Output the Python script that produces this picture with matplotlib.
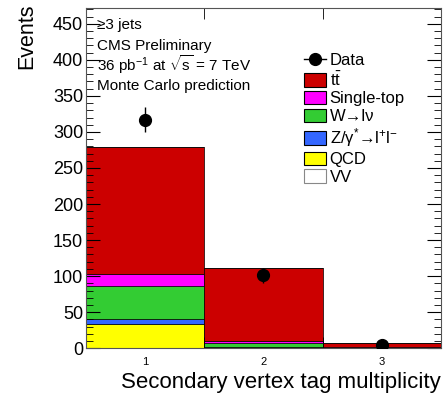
import matplotlib
matplotlib.use("Agg")
import matplotlib.pyplot as plt
from matplotlib.ticker import MultipleLocator, FixedLocator
from matplotlib.patches import Patch
from matplotlib.lines import Line2D

plt.rcParams['font.family'] = ['Liberation Sans', 'DejaVu Sans']
plt.rcParams['mathtext.fontset'] = 'custom'
plt.rcParams['mathtext.rm'] = 'Liberation Sans'
plt.rcParams['mathtext.it'] = 'Liberation Sans:italic'

# tag multiplicity bins (>=3 jets sample)
bins = [1, 2, 3]
bin_labels = ["1", "2", "3"]

# stacked MC expectation, bottom to top
qcd = [34, 1.5, 0.2]
zjets = [6, 0.5, 0.1]
wjets = [46, 4.5, 0.3]
single_top = [17, 4, 0.4]
ttbar = [176, 100.5, 5.5]
vv = [0.5, 0.1, 0.0]

data = [317, 101, 5]
data_err = [17.8, 10.0, 2.2]

components = [
    ("QCD", qcd, "#ffff00"),
    (r"Z/γ$^{*}$→l$^{+}$l$^{-}$", zjets, "#3366ff"),
    ("W→lν", wjets, "#33cc33"),
    ("Single-top", single_top, "#ff00ff"),
    (r"$\mathrm{t\bar{t}}$", ttbar, "#cc0000"),
    ("VV", vv, "#ffffff"),
]

fig = plt.figure(figsize=(4.45, 3.97), dpi=100)
ax = fig.add_axes([0.193, 0.123, 0.798, 0.857])

bottom = [0.0] * len(bins)
for name, vals, col in components:
    ax.bar(bins, vals, width=1.0, bottom=bottom, color=col,
           edgecolor="black", linewidth=0.5)
    bottom = [b + v for b, v in zip(bottom, vals)]

ax.errorbar(bins, data, yerr=data_err, fmt="o", color="black",
            markersize=8.5, elinewidth=1.0, capsize=0, zorder=5)

ax.set_xlim(0.5, 3.5)
ax.set_ylim(0, 472)
ax.set_xticks(bins)
ax.set_xticklabels(bin_labels, fontsize=8)
ax.xaxis.set_minor_locator(FixedLocator([1.5, 2.5]))
ax.tick_params(axis="x", which="major", length=0, pad=6)
ax.tick_params(axis="x", which="minor", direction="in", length=8,
               top=True, bottom=True)
ax.yaxis.set_major_locator(MultipleLocator(50))
ax.yaxis.set_minor_locator(MultipleLocator(10))
ax.tick_params(axis="y", which="major", direction="in", length=10,
               right=True, labelsize=13, pad=2)
ax.tick_params(axis="y", which="minor", direction="in", length=5,
               right=True)
for sp in ax.spines.values():
    sp.set_linewidth(0.8)
    sp.set_color("#555555")

ax.set_ylabel("Events", fontsize=15.5, loc="top")
ax.yaxis.set_label_coords(-0.137, 1.012)
ax.set_xlabel("Secondary vertex tag multiplicity", fontsize=16,
              loc="right", labelpad=4)

info = ["≥3 jets", "CMS Preliminary",
        r"36 pb$^{-1}$ at $\sqrt{\mathrm{s}}$ = 7 TeV",
        "Monte Carlo prediction"]
info_y = [0.938, 0.876, 0.815, 0.759]
for line, yy in zip(info, info_y):
    ax.text(0.03, yy, line, transform=ax.transAxes,
            fontsize=11, va="baseline", ha="left")

handles = [Line2D([], [], marker="o", color="black", markersize=8.5,
                  linestyle="-", linewidth=1.0)]
labels = ["Data"]
for name, vals, col in reversed(components):
    handles.append(Patch(facecolor=col, edgecolor="#888888" if name == "VV" else "black",
                         linewidth=0.8))
    labels.append(name)
# legend order: Data, ttbar, single top, W, Z, QCD, VV
order = [0, 2, 3, 4, 5, 6, 1]
ax.legend([handles[i] for i in order], [labels[i] for i in order],
          loc="upper left", bbox_to_anchor=(0.595, 0.888), frameon=False,
          fontsize=12, handlelength=1.3, handleheight=0.85,
          handletextpad=0.25, labelspacing=0.14, borderaxespad=0)

fig.savefig("out.png", dpi=100)
